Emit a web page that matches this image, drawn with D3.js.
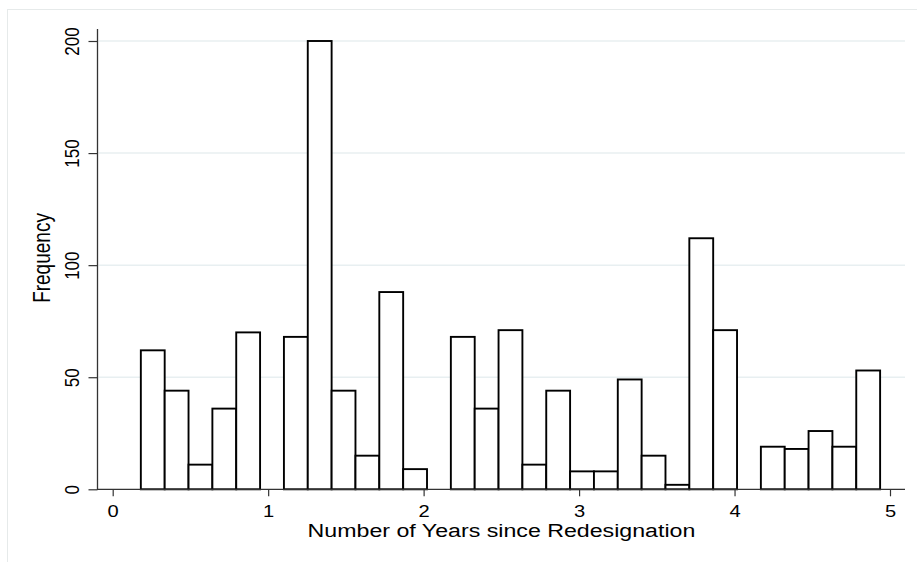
<!DOCTYPE html>
<html><head><meta charset="utf-8">
<script src="https://cdn.jsdelivr.net/npm/d3@7"></script>
<style>
html,body{margin:0;padding:0;background:#fff;}
text{font-family:"Liberation Sans",Arial,Helvetica,sans-serif;}
</style></head>
<body><svg id="c" width="917" height="562"></svg>
<script>
// Histogram: 31 bins of equal width starting at binStart
const binStart = 0.181;
const binWidth = 0.1534;
const counts = [62,44,11,36,70,0,68,200,44,15,88,9,0,68,36,71,11,44,8,8,49,15,2,112,71,0,19,18,26,19,53];
const xTicks = [0,1,2,3,4,5];
const yTicks = [0,50,100,150,200];
const xTitle = "Number of Years since Redesignation";
const yTitle = "Frequency";

const svg = d3.select("#c");
const SX = 1.22; // horizontal stretch of text in the reference

svg.append("rect").attr("x",7.5).attr("y",9.5).attr("width",920).attr("height",560)
  .attr("fill","#fff").attr("stroke","#e6eaea").attr("stroke-width",1);

const x = d3.scaleLinear().domain([0,5]).range([112.7,890]);
const y = d3.scaleLinear().domain([0,200]).range([489.3,41]);
const axL = 97.5, axR = 905;

// gridlines
svg.append("g").selectAll("line").data(yTicks.filter(d=>d>0)).join("line")
  .attr("x1",axL+1).attr("x2",axR).attr("y1",d=>y(d)).attr("y2",d=>y(d))
  .attr("stroke","#e8eff1").attr("stroke-width",1.5);

// bars
const bins = counts.map((c,i)=>({x0:binStart+i*binWidth, x1:binStart+(i+1)*binWidth, c}));
svg.append("g").selectAll("rect").data(bins.filter(b=>b.c>0)).join("rect")
  .attr("x",d=>x(d.x0)).attr("width",d=>x(d.x1)-x(d.x0))
  .attr("y",d=>y(d.c)).attr("height",d=>y(0)-y(d.c))
  .attr("fill","#fff").attr("stroke","#000").attr("stroke-width",1.9);

// x axis
const gx = svg.append("g").attr("transform",`translate(0,${y(0)})`)
  .call(d3.axisBottom(x).tickValues(xTicks).tickFormat(d3.format("d")).tickSize(7).tickSizeOuter(0));
gx.select(".domain").remove();
gx.selectAll(".tick line").attr("stroke","#333").attr("stroke-width",1.2);
gx.selectAll(".tick text").attr("y",27.5).attr("dy",null).attr("font-size",16.5)
  .attr("fill","#000").attr("transform",`scale(${SX},1)`);
svg.append("line").attr("x1",axL).attr("x2",axR).attr("y1",y(0)).attr("y2",y(0))
  .attr("stroke","#333").attr("stroke-width",1.3);

// y axis
const gy = svg.append("g").attr("transform",`translate(${axL},0)`)
  .call(d3.axisLeft(y).tickValues(yTicks).tickFormat(d3.format("d")).tickSize(9).tickSizeOuter(0));
gy.select(".domain").remove();
gy.selectAll(".tick line").attr("stroke","#333").attr("stroke-width",1.2);
gy.selectAll(".tick text").attr("x",null).attr("dy",null).attr("text-anchor","middle")
  .attr("font-size",17).attr("fill","#000")
  .attr("transform",`translate(-18.5,0) scale(${SX},1) rotate(-90)`);
svg.append("line").attr("x1",axL).attr("x2",axL).attr("y1",29).attr("y2",y(0)+0.7)
  .attr("stroke","#333").attr("stroke-width",1.3);

// titles
svg.append("text").attr("transform",`translate(501.5,536.5) scale(${SX},1)`)
  .attr("text-anchor","middle").attr("font-size",19).attr("fill","#000").text(xTitle);
svg.append("text").attr("transform",`translate(49.5,258) scale(${SX},1) rotate(-90)`)
  .attr("text-anchor","middle").attr("font-size",19).attr("fill","#000").text(yTitle);
</script></body></html>
